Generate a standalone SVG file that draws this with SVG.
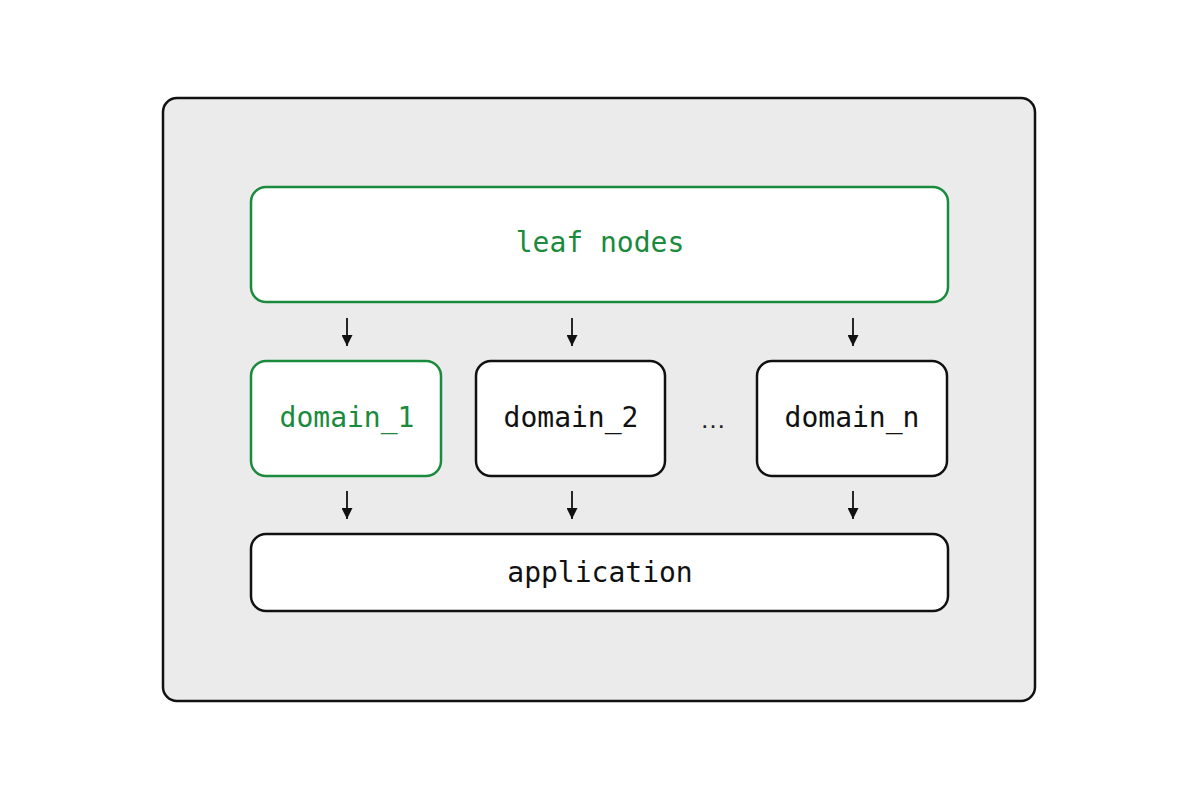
<svg xmlns="http://www.w3.org/2000/svg" width="1200" height="800" viewBox="0 0 1200 800">
<defs>
<marker id="ah" markerWidth="11" markerHeight="11" refX="11" refY="5.5" orient="auto" markerUnits="userSpaceOnUse" viewBox="0 0 11 11">
<path d="M0,0 L11,5.5 L0,11 Z" fill="#111"/>
</marker>
</defs>
<style>
.box{fill:#fff;stroke:#111;stroke-width:2.5}
.gbox{fill:#fff;stroke:#1a8a3c;stroke-width:2.5}
.t{font-family:"DejaVu Sans Mono","Liberation Mono",monospace;font-size:28px;text-anchor:middle;fill:#111}
.g{fill:#1a8a3c}
.arr{stroke:#111;stroke-width:1.8;fill:none}
</style>
<rect width="1200" height="800" fill="#fff"/>
<g id="container">
<rect x="163" y="98" width="872" height="603" rx="14" fill="#ebebeb" stroke="#111" stroke-width="2.5"/>
</g>
<g id="leaf_nodes">
<rect class="gbox" x="251" y="187" width="697" height="115" rx="15"/>
<text class="t g" x="600" y="252">leaf nodes</text>
</g>
<g id="domain_1">
<rect class="gbox" x="251" y="361" width="190" height="115" rx="15"/>
<text class="t g" x="347" y="427">domain_1</text>
</g>
<g id="domain_2">
<rect class="box" x="476" y="361" width="189" height="115" rx="15"/>
<text class="t" x="571" y="427">domain_2</text>
</g>
<g id="ellipsis">
<text x="713" y="428" style="font-family:'Liberation Sans',sans-serif;font-size:26px;text-anchor:middle;fill:#222">…</text>
</g>
<g id="domain_n">
<rect class="box" x="757" y="361" width="190" height="115" rx="15"/>
<text class="t" x="852" y="427">domain_n</text>
</g>
<g id="application">
<rect class="box" x="251" y="534" width="697" height="77" rx="15"/>
<text class="t" x="600" y="582">application</text>
</g>
<g id="connectors">
<line class="arr" x1="347" y1="318" x2="347" y2="346" marker-end="url(#ah)"/>
<line class="arr" x1="572" y1="318" x2="572" y2="346" marker-end="url(#ah)"/>
<line class="arr" x1="853" y1="318" x2="853" y2="346" marker-end="url(#ah)"/>
<line class="arr" x1="347" y1="491" x2="347" y2="519" marker-end="url(#ah)"/>
<line class="arr" x1="572" y1="491" x2="572" y2="519" marker-end="url(#ah)"/>
<line class="arr" x1="853" y1="491" x2="853" y2="519" marker-end="url(#ah)"/>
</g>
</svg>
